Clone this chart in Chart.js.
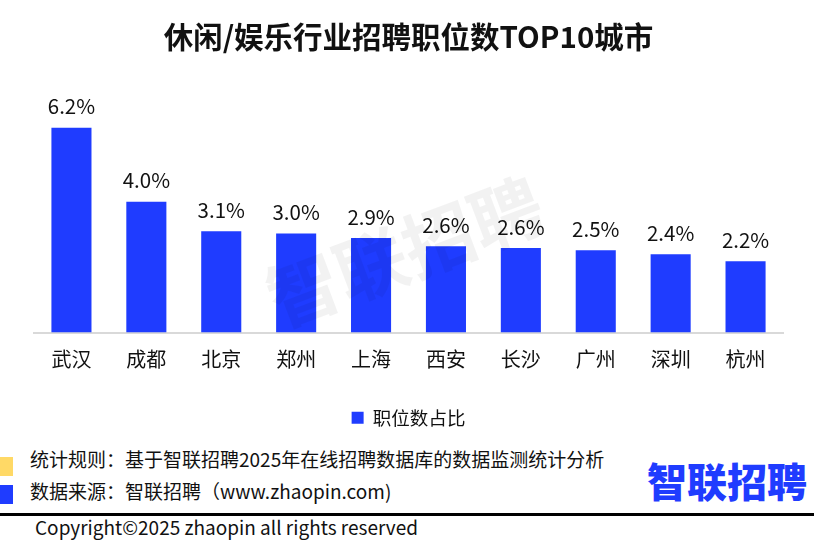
<!DOCTYPE html>
<html>
<head>
<meta charset="utf-8">
<script src="https://cdn.jsdelivr.net/npm/chart.js@4"></script>
<style>
  body { margin: 0; background: #fff; font-family: "Noto Sans CJK SC", sans-serif; }
  #wrap { position: relative; width: 814px; height: 557px; overflow: hidden; }
  #box { position: absolute; left: 0; top: 0; width: 814px; height: 437px; }
  .sq { position: absolute; left: 0; width: 13px; height: 19px; }
  .note { position: absolute; left: 30px; font-size: 19px; line-height: 28px; color: #111; white-space: nowrap; }
  #logo { position: absolute; left: 647px; top: 458px; font-size: 40px; line-height: 44px; font-weight: 900; color: #1f3cff; white-space: nowrap; }
  #rule { position: absolute; left: 0; top: 513px; width: 814px; height: 3px; background: #000; }
  #copy { position: absolute; left: 35px; top: 513px; font-size: 19px; line-height: 28px; color: #111; white-space: nowrap; }
</style>
</head>
<body>
<div id="wrap">
  <div id="box"><canvas id="barChart"></canvas></div>
  <div class="sq" style="top:457px;background:#ffd966"></div>
  <div class="sq" style="top:485px;background:#1f3cff"></div>
  <div class="note" style="top:445px">统计规则：基于智联招聘2025年在线招聘数据库的数据监测统计分析</div>
  <div class="note" style="top:477px">数据来源：智联招聘（www.zhaopin.com)</div>
  <div id="logo">智联招聘</div>
  <div id="rule"></div>
  <div id="copy">Copyright©2025 zhaopin all rights reserved</div>
</div>
<script>
const cities = ["武汉", "成都", "北京", "郑州", "上海", "西安", "长沙", "广州", "深圳", "杭州"];
const shares = [6.2, 3.96, 3.07, 3.0, 2.86, 2.61, 2.56, 2.49, 2.37, 2.16];
const seriesName = "职位数占比";
const chartTitle = "休闲/娱乐行业招聘职位数TOP10城市";

const FONT = '"Noto Sans CJK SC", sans-serif';
const BLUE = "#1f3cff";

// value labels above bars
const barLabels = {
  id: "barLabels",
  afterDatasetsDraw(chart) {
    const ctx = chart.ctx;
    const meta = chart.getDatasetMeta(0);
    ctx.save();
    ctx.font = "20.5px " + FONT;
    ctx.fillStyle = "#111";
    ctx.textAlign = "center";
    ctx.textBaseline = "bottom";
    meta.data.forEach((bar, i) => {
      ctx.fillText(shares[i].toFixed(1) + "%", bar.x, bar.y - 11);
    });
    ctx.restore();
  }
};

// faint watermark
const watermark = {
  id: "watermark",
  afterDraw(chart) {
    const ctx = chart.ctx;
    ctx.save();
    ctx.translate(405, 252);
    ctx.rotate(-0.36);
    ctx.font = "bold 72px " + FONT;
    ctx.fillStyle = "rgba(0,0,0,0.05)";
    ctx.textAlign = "center";
    ctx.textBaseline = "middle";
    ctx.fillText("智联招聘", 0, 0);
    ctx.restore();
  }
};

const ctx = document.getElementById("barChart").getContext("2d");
const chart = new Chart(ctx, {
  type: "bar",
  data: {
    labels: cities,
    datasets: [{
      label: seriesName,
      data: shares,
      backgroundColor: BLUE,
      barPercentage: 0.535,
      categoryPercentage: 1
    }]
  },
  options: {
    responsive: true,
    maintainAspectRatio: false,
    animation: false,
    layout: { padding: { left: 34, right: 31, top: 0, bottom: 0 } },
    plugins: {
      title: {
        display: true,
        text: chartTitle,
        color: "#111",
        font: { family: FONT, size: 29.5, weight: "bold" },
        padding: { top: 19, bottom: 47 }
      },
      legend: {
        position: "bottom",
        labels: {
          color: "#111",
          boxWidth: 12,
          boxHeight: 12,
          padding: 19,
          font: { family: FONT, size: 18.5 }
        }
      },
      tooltip: { enabled: false }
    },
    scales: {
      x: {
        grid: { display: false },
        border: { color: "#d9d9d9", width: 2 },
        ticks: { color: "#111", padding: 7, font: { family: FONT, size: 20 } },
        afterFit(scale) { scale.height += 11; }
      },
      y: {
        display: false,
        min: 0,
        max: 7
      }
    }
  },
  plugins: [barLabels, watermark]
});
</script>
</body>
</html>
